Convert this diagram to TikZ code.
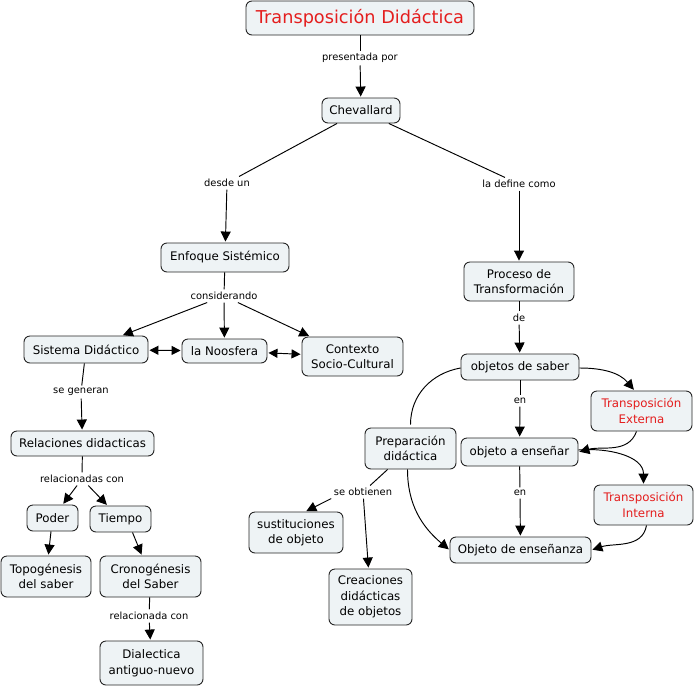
\documentclass[tikz,border=0pt]{standalone}
\usepackage{fontspec}
\setmainfont{DejaVu Sans}
\usetikzlibrary{arrows.meta}
\definecolor{boxfill}{HTML}{EEF3F5}
\definecolor{titlered}{HTML}{E41E1E}
\begin{document}
\begin{tikzpicture}[x=1pt,y=-1pt,
  box/.style={draw=black!85, fill=boxfill, rounded corners=6pt, line width=0.9pt, align=center, inner sep=1pt, font=\fontsize{11.8}{15.5}\selectfont},
  redtext/.style={text=titlered},
  lbl/.style={font=\fontsize{9.9}{12}\selectfont, inner sep=2.5pt, fill=white},
  con/.style={line width=0.95pt, draw=black},
  arr/.style={con, -{Triangle[length=10pt,width=10pt]}, shorten >=1pt},
  darr/.style={con, {Triangle[length=9pt,width=9pt]}-{Triangle[length=9pt,width=9pt]}, shorten >=1pt, shorten <=1pt},
]
\fill[white] (0,0) rectangle (696,686);
\useasboundingbox (0,0) rectangle (696,686);

% nodes
\node[box, redtext, font=\fontsize{17.7}{20}\selectfont, minimum width=228, minimum height=34] (title) at (360,18) {Transposición Didáctica};
\node[box, minimum width=78, minimum height=25] (chev) at (361,110.5) {Chevallard};
\node[box, minimum width=128, minimum height=29] (enf) at (225,257.5) {Enfoque Sistémico};
\node[box, minimum width=110, minimum height=39] (proc) at (519,281.5) {Proceso de\\Transformación};
\node[box, minimum width=124, minimum height=27] (sis) at (86,349.5) {Sistema Didáctico};
\node[box, minimum width=85, minimum height=24] (noos) at (224.5,351) {la Noosfera};
\node[box, minimum width=101, minimum height=39] (ctx) at (352.5,356.5) {Contexto\\Socio-Cultural};
\node[box, minimum width=143, minimum height=25] (rel) at (82.5,443.5) {Relaciones didacticas};
\node[box, minimum width=51, minimum height=26] (poder) at (52.5,518) {Poder};
\node[box, minimum width=61, minimum height=26] (tiempo) at (120.5,519) {Tiempo};
\node[box, minimum width=90, minimum height=41] (topo) at (46,576.5) {Topogénesis\\del saber};
\node[box, minimum width=101, minimum height=41] (crono) at (150.5,576.5) {Cronogénesis\\del Saber};
\node[box, minimum width=103, minimum height=44] (dial) at (151.5,663) {Dialectica\\antiguo-nuevo};
\node[box, minimum width=118, minimum height=26] (os) at (520,367) {objetos de saber};
\node[box, minimum width=117, minimum height=28] (oae) at (519.5,452) {objeto a enseñar};
\node[box, minimum width=141, minimum height=26] (ose) at (520.5,550) {Objeto de enseñanza};
\node[box, redtext, minimum width=101, minimum height=40] (ext) at (641.5,411) {Transposición\\Externa};
\node[box, redtext, minimum width=99, minimum height=40] (int) at (643.5,505) {Transposición\\Interna};
\node[box, minimum width=91, minimum height=41] (prep) at (410.5,448.5) {Preparación\\didáctica};
\node[box, minimum width=94, minimum height=41] (sust) at (296,532.5) {sustituciones\\de objeto};
\node[box, minimum width=83, minimum height=56] (crea) at (370.5,597) {Creaciones\\didácticas\\de objetos};

% labels
\node[lbl] (l1) at (360,58) {presentada por};
\node[lbl] (l2) at (227,183) {desde un};
\node[lbl] (l3) at (519,184) {la define como};
\node[lbl] (l4) at (224,296) {considerando};
\node[lbl] (l5) at (81,392) {se generan};
\node[lbl] (l6) at (82,479) {relacionadas con};
\node[lbl] (l7) at (149,616) {relacionada con};
\node[lbl] (l8) at (519,318) {de};
\node[lbl] (l9) at (520,401) {en};
\node[lbl] (l10) at (520,493) {en};
\node[lbl] (l11) at (363,492) {se obtienen};

% connectors
\draw[con] (title) -- (l1); \draw[arr] (l1) -- (chev);
\draw[con] (chev) -- (l2); \draw[arr] (l2) -- (enf);
\draw[con] (chev) -- (l3); \draw[arr] (l3) -- (proc);
\draw[con] (enf) -- (l4);
\draw[arr] (l4) -- (sis); \draw[arr] (l4) -- (noos); \draw[arr] (l4) -- (ctx);
\draw[darr] (sis) -- (noos); \draw[darr] (noos) -- (ctx);
\draw[con] (sis) -- (l5); \draw[arr] (l5) -- (rel);
\draw[con] (rel) -- (l6); \draw[arr] (l6) -- (poder); \draw[arr] (l6) -- (tiempo);
\draw[arr] (poder) -- (topo);
\draw[arr] ([xshift=12pt]tiempo.south) -- (crono);
\draw[con] (crono) -- (l7); \draw[arr] (l7) -- (dial);
\draw[con] (proc) -- (l8); \draw[arr] (l8) -- (os);
\draw[con] (os) -- (l9); \draw[arr] (l9) -- (oae);
\draw[con] (oae) -- (l10); \draw[arr] (l10) -- (ose);
\draw[arr] ([yshift=-1pt]os.east) to[out=0,in=130] ([xshift=-7pt]ext.north);
\draw[arr] ([xshift=-5pt]ext.south) to[out=-110,in=15] (oae.east);
\draw[arr] ([yshift=2pt]oae.east) to[out=5,in=90] (int.north);
\draw[arr] ([xshift=3pt]int.south) to[out=-100,in=18] (ose.east);
\draw[con] ([yshift=-1pt]os.west) to[out=190,in=90] ([yshift=3pt]prep.north);
\draw[arr] ([xshift=-3pt]prep.south) to[out=-90,in=140] (ose.west);
\draw[con] (prep) -- (l11);
\draw[arr] (l11.south west) -- ([xshift=-38pt]sust.north east);
\draw[arr] (l11) -- (crea);
\end{tikzpicture}
\end{document}
